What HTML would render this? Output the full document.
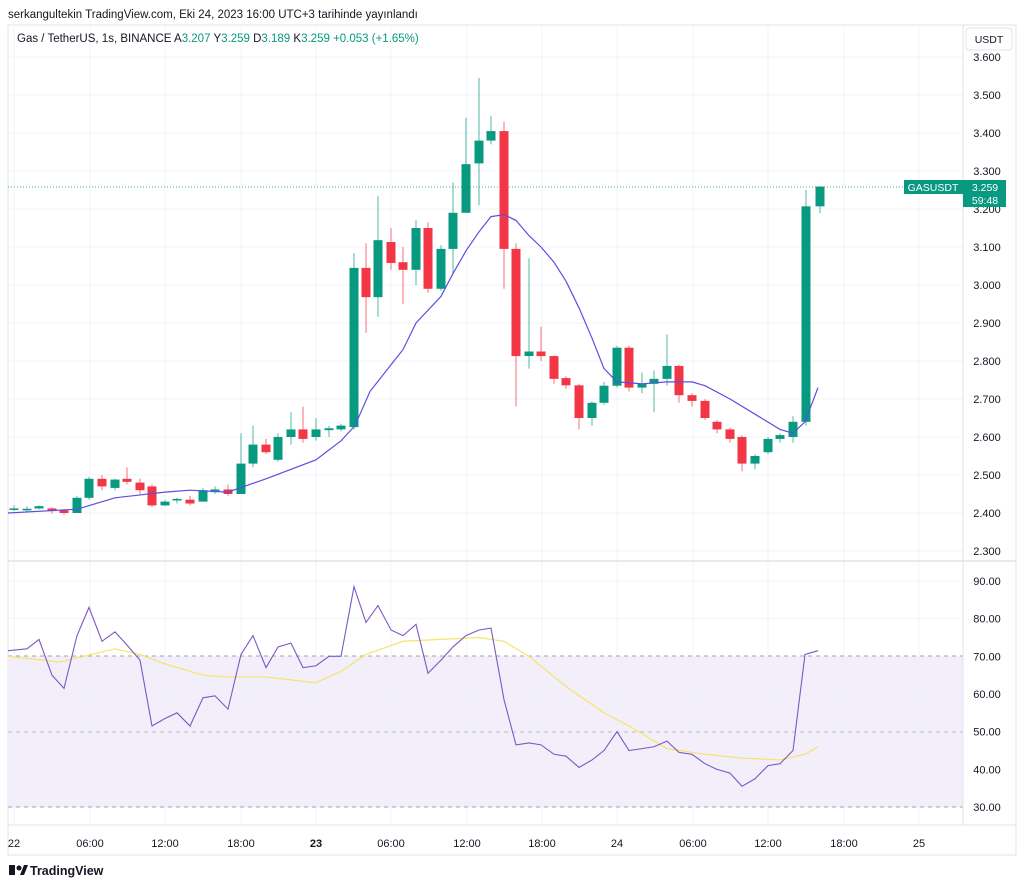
<!DOCTYPE html>
<html><head><meta charset="utf-8"><style>
body{margin:0;background:#fff;width:1024px;height:887px;overflow:hidden;font-family:"Liberation Sans",sans-serif}
svg{position:absolute;left:0;top:0}
</style></head><body>
<svg id="s" width="1024" height="887" xmlns="http://www.w3.org/2000/svg" font-family="Liberation Sans, sans-serif">
<rect width="1024" height="887" fill="#fff"/>
<text x="8" y="18" font-size="11.5" fill="#131722">serkangultekin TradingView.com, Eki 24, 2023 16:00 UTC+3 tarihinde yayınlandı</text>
<rect x="8" y="25" width="1008" height="830" fill="none" stroke="#e0e3eb"/>
<g id="grid"></g>
<rect x="8" y="656" width="955" height="151" fill="#f0ecfa" opacity="0.85"/>
<line x1="8" y1="656" x2="963" y2="656" stroke="#888" stroke-dasharray="4,4" stroke-width="0.8"/>
<line x1="8" y1="732" x2="963" y2="732" stroke="#aaa" stroke-dasharray="4,4" stroke-width="0.8"/>
<line x1="8" y1="807" x2="963" y2="807" stroke="#888" stroke-dasharray="4,4" stroke-width="0.8"/>
<line x1="8" y1="187" x2="963" y2="187" stroke="#089981" stroke-dasharray="1,2" stroke-width="0.8"/>
<g id="c"></g>
<line x1="963" y1="25" x2="963" y2="825" stroke="#e0e3eb"/>
<line x1="8" y1="561" x2="1016" y2="561" stroke="#e0e3eb" stroke-width="1.5"/>
<line x1="8" y1="825" x2="1016" y2="825" stroke="#e0e3eb"/>
<text x="17" y="42" font-size="11.5" fill="#131722">Gas / TetherUS, 1s, BINANCE <tspan>A</tspan><tspan fill="#089981">3.207</tspan> Y<tspan fill="#089981">3.259</tspan> D<tspan fill="#089981">3.189</tspan> K<tspan fill="#089981">3.259</tspan> <tspan fill="#089981">+0.053 (+1.65%)</tspan></text>
<rect x="966" y="28" width="46" height="22" rx="3" fill="#fff" stroke="#e0e3eb"/>
<text x="989" y="43" font-size="10.5" text-anchor="middle" fill="#131722">USDT</text>
<g id="ax" font-size="11" fill="#131722"></g>
<rect x="904" y="180" width="59" height="14" fill="#089981"/>
<text x="933" y="191" font-size="10.5" fill="#fff" text-anchor="middle">GASUSDT</text>
<rect x="963" y="180" width="43" height="27" fill="#089981"/>
<text x="985" y="191" font-size="10.5" fill="#fff" text-anchor="middle">3.259</text>
<text x="985" y="204" font-size="10.5" fill="#fff" text-anchor="middle">59:48</text>
<g transform="translate(9,864)"><rect x="0" y="1" width="6" height="10" fill="#131722"/><circle cx="10" cy="4" r="2.5" fill="#131722"/><path d="M11 11 L15 1 L19 1 L15 11Z" fill="#131722"/></g>
<text x="30" y="875" font-size="12.5" fill="#131722" font-weight="bold">TradingView</text>
</svg>
<script>
const NS="http://www.w3.org/2000/svg";
function el(p,t,a,txt){const e=document.createElementNS(NS,t);for(const k in a)e.setAttribute(k,a[k]);if(txt)e.textContent=txt;document.getElementById(p).appendChild(e);return e;}
const py=p=>57+(3.6-p)*380, ry=v=>581+(90-v)*3.767;
// grid
for(let i=0;i<14;i++){const p=3.6-i*0.1;el('grid','line',{x1:8,x2:963,y1:py(p),y2:py(p),stroke:'#f0f3fa'});el('ax','text',{x:987,y:py(p)+4,'text-anchor':'middle'},p.toFixed(3));}
[90,80,70,60,50,40,30].forEach(v=>{el('grid','line',{x1:8,x2:963,y1:ry(v),y2:ry(v),stroke:'#f0f3fa'});el('ax','text',{x:987,y:ry(v)+4,'text-anchor':'middle'},v.toFixed(2));});
const tk=[[14,'22'],[90,'06:00'],[165,'12:00'],[241,'18:00'],[316,'23'],[391,'06:00'],[467,'12:00'],[542,'18:00'],[617,'24'],[693,'06:00'],[768,'12:00'],[844,'18:00'],[919,'25']];
tk.forEach(([x,t])=>{el('grid','line',{x1:x,x2:x,y1:25,y2:825,stroke:'#f0f3fa'});const e=el('ax','text',{x:x,y:847,'text-anchor':'middle'},t);if(t=='23'||t=='24'||t=='25'){} if(t=='23')e.setAttribute('font-weight','bold');});
// candles x,o,c,h,l
const C=[[14,2.41,2.412,2.42,2.405],[27,2.41,2.411,2.417,2.402],[39,2.412,2.418,2.42,2.41],[52,2.412,2.405,2.415,2.398],[64,2.407,2.40,2.41,2.395],[77,2.40,2.44,2.445,2.40],[89,2.44,2.49,2.495,2.435],[102,2.49,2.47,2.50,2.46],[115,2.466,2.488,2.49,2.46],[127,2.49,2.482,2.52,2.475],[140,2.48,2.46,2.49,2.45],[152,2.47,2.42,2.475,2.415],[165,2.42,2.43,2.435,2.418],[177,2.433,2.437,2.44,2.425],[190,2.435,2.425,2.445,2.42],[203,2.43,2.46,2.465,2.43],[215,2.455,2.462,2.47,2.45],[228,2.462,2.45,2.475,2.445],[241,2.45,2.53,2.61,2.45],[253,2.53,2.58,2.63,2.52],[266,2.58,2.56,2.595,2.555],[278,2.54,2.60,2.61,2.535],[291,2.60,2.62,2.665,2.58],[303,2.62,2.595,2.68,2.585],[316,2.60,2.62,2.65,2.59],[329,2.618,2.623,2.63,2.60],[341,2.62,2.63,2.635,2.615],[354,2.626,3.045,3.084,2.62],[366,3.045,2.968,3.11,2.874],[378,2.968,3.118,3.234,2.916],[391,3.113,3.058,3.15,3.04],[403,3.06,3.04,3.10,2.95],[416,3.04,3.15,3.17,3.0],[428,3.15,2.99,3.165,2.98],[441,2.99,3.095,3.105,2.985],[453,3.095,3.19,3.27,3.03],[466,3.19,3.318,3.44,3.21],[479,3.32,3.38,3.545,3.21],[491,3.38,3.405,3.445,3.37],[504,3.405,3.095,3.43,2.99],[516,3.095,2.813,3.11,2.68],[529,2.813,2.825,3.07,2.78],[541,2.825,2.813,2.89,2.80],[554,2.813,2.753,2.815,2.74],[566,2.755,2.736,2.76,2.727],[579,2.736,2.65,2.74,2.62],[592,2.65,2.69,2.694,2.63],[604,2.69,2.735,2.745,2.685],[617,2.735,2.835,2.84,2.73],[629,2.835,2.73,2.84,2.72],[642,2.73,2.74,2.77,2.715],[654,2.74,2.753,2.775,2.665],[667,2.753,2.787,2.87,2.735],[679,2.787,2.71,2.79,2.69],[692,2.71,2.695,2.715,2.68],[705,2.695,2.65,2.70,2.645],[717,2.64,2.62,2.645,2.61],[730,2.62,2.595,2.625,2.585],[742,2.60,2.53,2.605,2.51],[755,2.53,2.55,2.555,2.515],[768,2.56,2.595,2.60,2.555],[780,2.595,2.605,2.61,2.585],[793,2.60,2.64,2.655,2.585],[806,2.64,3.207,3.25,2.63],[820,3.207,3.259,3.26,3.189]];
C.forEach(([x,o,c,h,l])=>{const col=c>=o?'#089981':'#f23645';el('c','line',{x1:x,x2:x,y1:py(h),y2:py(l),stroke:col,'stroke-width':1,opacity:0.7});const t=Math.min(py(o),py(c)),b=Math.max(py(o),py(c));el('c','rect',{x:x-4.5,y:t,width:9,height:Math.max(b-t,1.5),fill:col});});
const MA=[[8,2.40],[77,2.41],[115,2.44],[165,2.455],[190,2.46],[228,2.455],[266,2.49],[316,2.54],[341,2.59],[355,2.63],[370,2.72],[391,2.79],[403,2.83],[416,2.90],[441,2.97],[453,3.03],[466,3.09],[479,3.14],[491,3.18],[504,3.185],[516,3.17],[529,3.13],[541,3.10],[554,3.06],[566,3.01],[579,2.94],[592,2.86],[604,2.78],[617,2.745],[642,2.74],[667,2.745],[692,2.745],[705,2.735],[730,2.70],[755,2.66],[780,2.62],[793,2.61],[805,2.64],[818,2.73]];
el('c','polyline',{points:MA.map(([x,p])=>x+','+py(p)).join(' '),fill:'none',stroke:'#5b4fe0','stroke-width':1.2});
const Y=[[8,70],[60,68.5],[115,72],[140,70.5],[165,68],[203,65],[228,64.5],[266,64.5],[316,63],[341,66],[366,70.5],[403,74],[441,74.5],[479,75],[504,74],[529,70],[566,62],[604,55],[629,51.5],[667,45.5],[705,44],[742,43],[780,42.5],[805,44],[818,46]];
el('c','polyline',{points:Y.map(([x,v])=>x+','+ry(v)).join(' '),fill:'none',stroke:'#f7e36a','stroke-width':1.2});
const R=[[8,71.5],[27,72],[39,74.5],[52,65],[64,61.5],[77,75.5],[89,83],[102,74],[115,76.5],[127,73],[140,69],[152,51.5],[165,53.5],[177,55],[190,51.5],[203,59],[215,59.5],[228,56],[241,70.5],[253,75.5],[266,67],[278,72.5],[291,73.5],[303,67],[316,67.5],[329,70],[341,70],[354,88.5],[366,79],[378,83.5],[391,77],[403,75.5],[416,78.5],[428,65.5],[441,69],[453,72.5],[466,75.5],[479,77],[491,77.5],[504,58.5],[516,46.5],[529,47],[541,46.5],[554,44],[566,43.5],[579,40.5],[592,42.5],[604,45],[617,50],[629,45],[642,45.5],[654,46],[667,47.5],[679,44.5],[692,44],[705,41.5],[717,40],[730,39],[742,35.5],[755,37.5],[768,41],[780,41.5],[793,45],[805,70.5],[818,71.5]];
el('c','polyline',{points:R.map(([x,v])=>x+','+ry(v)).join(' '),fill:'none',stroke:'#7e57c2','stroke-width':1.1});
</script>
</body></html>
